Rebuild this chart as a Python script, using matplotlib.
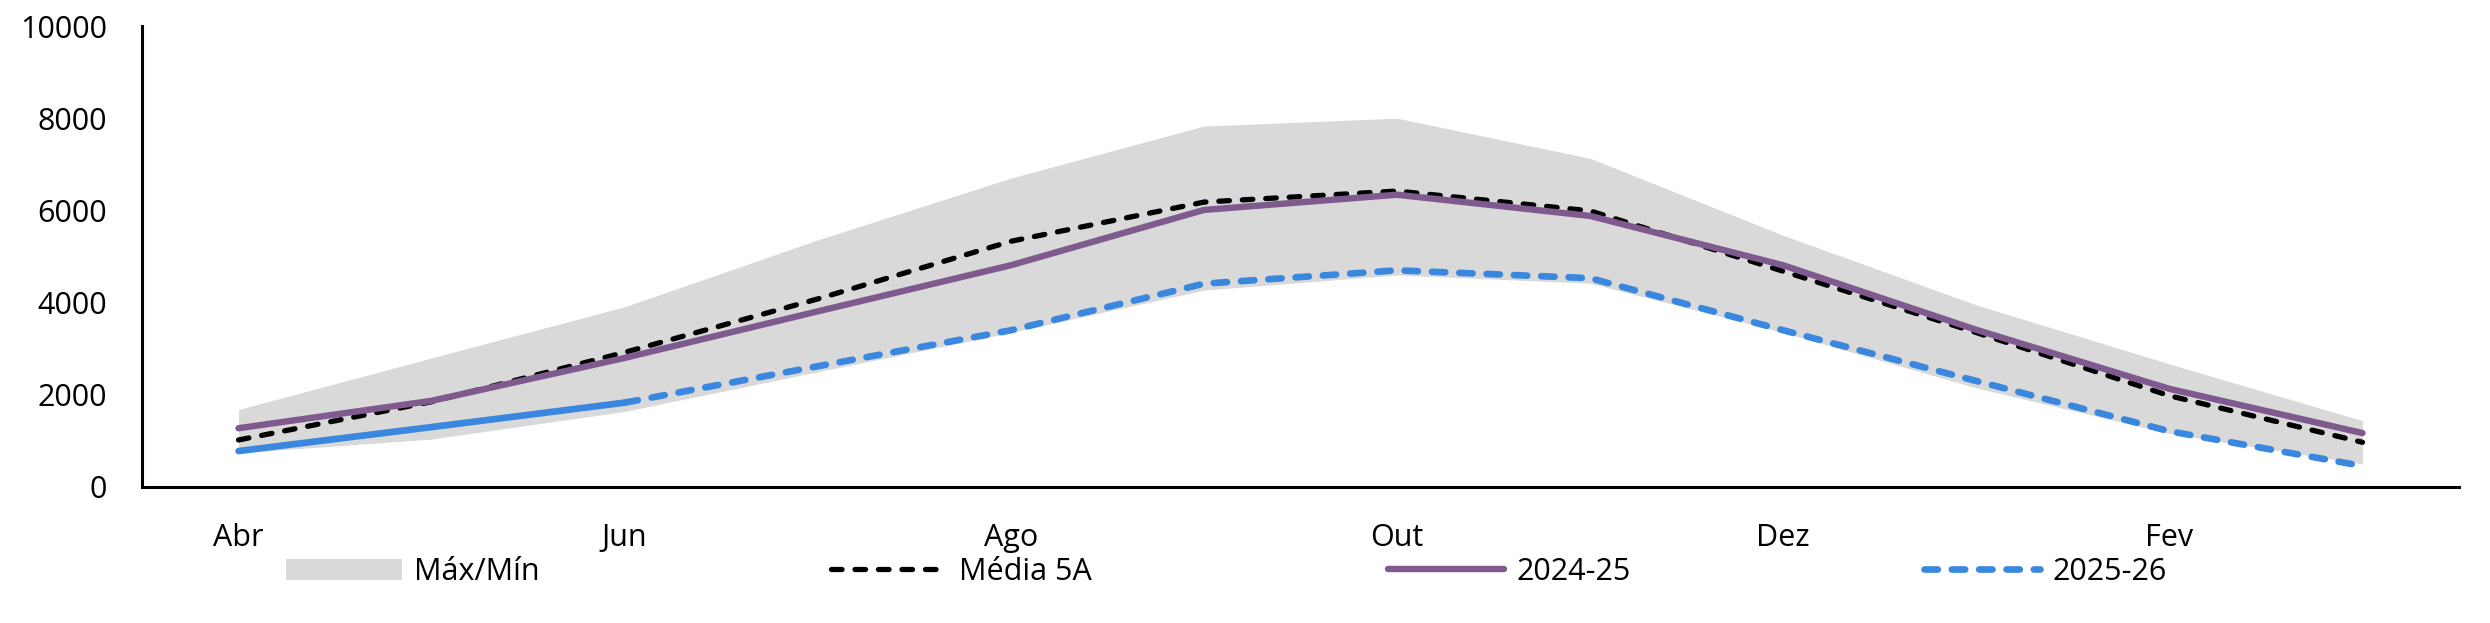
import matplotlib
matplotlib.use('Agg')
import matplotlib.pyplot as plt
from matplotlib.patches import Patch

months = ['Abr', 'Mai', 'Jun', 'Jul', 'Ago', 'Set', 'Out', 'Nov', 'Dez', 'Jan', 'Fev', 'Mar']
max_vals = [1680, 2800, 3910, 5360, 6700, 7830, 8000, 7130, 5460, 3950, 2670, 1440]
min_vals = [740, 1040, 1640, 2500, 3350, 4270, 4600, 4420, 3350, 2150, 1160, 500]
media_5a = [1020, 1850, 2920, 4080, 5330, 6180, 6420, 5990, 4680, 3350, 1980, 970]
s_2024_25 = [1275, 1870, 2800, 3810, 4810, 6010, 6340, 5880, 4810, 3410, 2130, 1170]
s_2025_26 = [780, 1300, 1830, 2620, 3400, 4410, 4700, 4530, 3400, 2300, 1210, 456]
n_actual = 3  # 2025-26 observed through Jun, projected after
yticks = [0, 2000, 4000, 6000, 8000, 10000]
legend_labels = ['Máx/Mín', 'Média 5A', '2024-25', '2025-26']

GREY = '#D9D9D9'
PURPLE = '#7E5A8E'
BLUE = '#3A87E0'
FS = 22

plt.rcParams['font.family'] = ['Open Sans', 'DejaVu Sans']

W, H = 2490, 623
fig = plt.figure(figsize=(W / 100, H / 100), dpi=100)
ax = fig.add_axes([142 / W, (H - 487) / H, (2459 - 142) / W, (487 - 26) / H])

x = list(range(len(months)))
ax.fill_between(x, min_vals, max_vals, color=GREY, lw=0, zorder=1)
l_media, = ax.plot(x, media_5a, color='black', lw=3.8, dashes=(2.0, 2.45),
                   dash_capstyle='round', zorder=2)
l_2425, = ax.plot(x, s_2024_25, color=PURPLE, lw=4.6, solid_capstyle='round', zorder=3)
ax.plot(x[:n_actual], s_2025_26[:n_actual], color=BLUE, lw=4.8,
        solid_capstyle='round', zorder=4)
l_2526, = ax.plot(x[n_actual - 1:], s_2025_26[n_actual - 1:], color=BLUE, lw=4.8,
                  dashes=(2.0, 2.1), dash_capstyle='round', zorder=4)

ax.set_xlim(-0.5, len(months) - 0.5)
ax.set_ylim(0, 10000)
ax.set_yticks(yticks)
ax.set_yticklabels([str(v) for v in yticks])
ax.set_xticks(x[::2])
ax.set_xticklabels(months[::2])
ax.tick_params(axis='both', length=0, labelsize=FS, colors='black')
ax.tick_params(axis='y', pad=25)
ax.tick_params(axis='x', pad=26)
for s in ['top', 'right']:
    ax.spines[s].set_visible(False)
for s in ['left', 'bottom']:
    ax.spines[s].set_linewidth(2.2)
    ax.spines[s].set_color('black')

handles = [Patch(facecolor=GREY, edgecolor='none'), l_media, l_2425, l_2526]
handle_x = [286, 831, 1388, 1924]
legend_y = 1 - 572 / H
for hx, h, lab in zip(handle_x, handles, legend_labels):
    fig.legend(handles=[h], labels=[lab], loc='center left',
               bbox_to_anchor=(hx / W, legend_y), frameon=False,
               borderpad=0, borderaxespad=0, handlelength=3.8,
               handletextpad=0.4, fontsize=FS)

fig.savefig('out.png', dpi=100)
